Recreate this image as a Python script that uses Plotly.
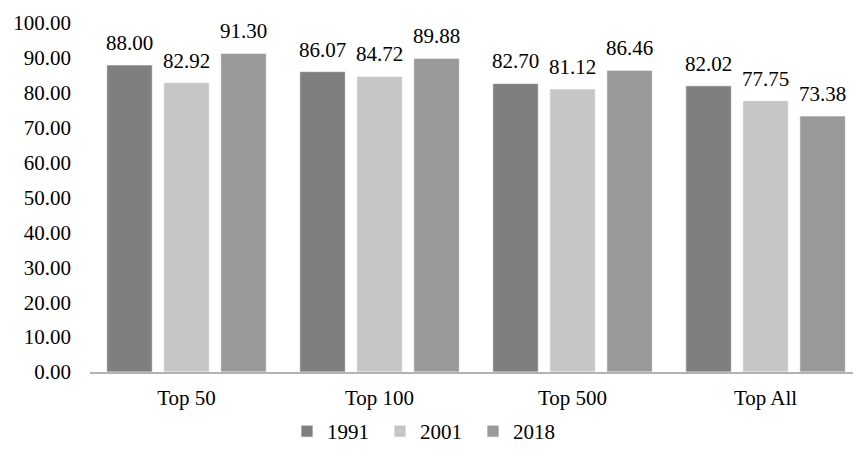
import plotly.graph_objects as go

categories = ["Top 50", "Top 100", "Top 500", "Top All"]
series_names = ["1991", "2001", "2018"]
values_1991 = [88.00, 86.07, 82.70, 82.02]
values_2001 = [82.92, 84.72, 81.12, 77.75]
values_2018 = [91.30, 89.88, 86.46, 73.38]
colors = ["#7f7f7f", "#c6c6c6", "#999999"]
y_ticks = [0, 10, 20, 30, 40, 50, 60, 70, 80, 90, 100]

FONT = "Liberation Serif"
SLOT_PX = 57  # horizontal offset of each series' bar within a category group

fig = go.Figure()
annotations = []
all_series = [values_1991, values_2001, values_2018]
for i, (name, vals, col) in enumerate(zip(series_names, all_series, colors)):
    fig.add_trace(go.Bar(
        x=categories, y=vals, name=name,
        marker=dict(color=col, line=dict(color="white", width=0.75)),
    ))
    for cat, v in zip(categories, vals):
        annotations.append(dict(
            x=cat, y=v, xref="x", yref="y", text=f"{v:.2f}", showarrow=False,
            xanchor="center", yanchor="bottom", xshift=(i - 1) * SLOT_PX, yshift=8,
            font=dict(family=FONT, size=21, color="black"),
        ))

fig.update_layout(
    width=853, height=452,
    margin=dict(l=90, r=0, t=23, b=80),
    paper_bgcolor="white", plot_bgcolor="white",
    barmode="group", bargap=0.114, bargroupgap=0.2,
    font=dict(family=FONT, size=21, color="black"),
    showlegend=True,
    legend=dict(orientation="h", xref="container", yref="container",
                x=0.5, xanchor="center", y=0.0, yanchor="bottom",
                font=dict(family=FONT, size=21), itemwidth=30, entrywidth=48),
    xaxis=dict(range=[-0.5, 3.453], showline=True, linecolor="#b3b3b3", linewidth=1.5,
               ticks="", showgrid=False, zeroline=False, ticklabelstandoff=6),
    yaxis=dict(range=[0, 100], tickvals=y_ticks, tickformat=".2f", showgrid=False,
               zeroline=False, showline=False, ticks="", ticklabelstandoff=18),
    annotations=annotations,
)
fig.write_html("out.html")
